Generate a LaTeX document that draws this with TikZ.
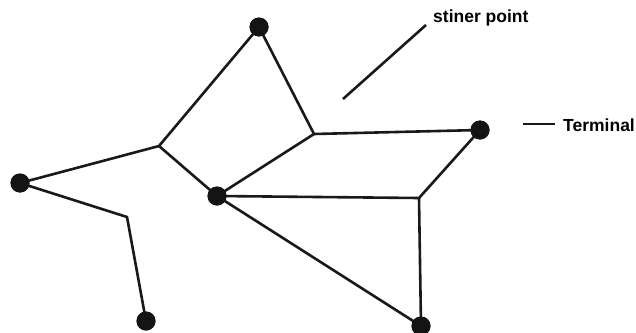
\documentclass[tikz,border=0pt]{standalone}
\usepackage{fontspec}
\setmainfont{Liberation Sans}
\begin{document}
\begin{tikzpicture}[x=1pt,y=-1pt,
  term/.style={circle,fill=black!92,inner sep=0pt,minimum size=19pt},
  stp/.style={coordinate},
  edge/.style={line width=2.6pt,black!90},
  lbl/.style={font=\bfseries\fontsize{17.5}{17.5}\selectfont,inner sep=0pt}]
\useasboundingbox[fill=white] (0,0) rectangle (636,332);
\node[term] (t1) at (259,27) {};
\node[term] (t2) at (480,130) {};
\node[term] (t3) at (20,183) {};
\node[term] (t4) at (217,196) {};
\node[term] (t5) at (146,321) {};
\node[term] (t6) at (421,326) {};
\coordinate (s1) at (159,146);
\coordinate (s2) at (314,134);
\coordinate (s3) at (419,198);
\coordinate (s4) at (127,217);
\draw[edge,line join=miter] (t1.center) -- (s1) -- (t3.center);
\draw[edge] (s1) -- (t4.center);
\draw[edge] (t1.center) -- (s2) -- (t2.center);
\draw[edge] (s2) -- (t4.center);
\draw[edge] (t3.center) -- (s4) -- (t5.center);
\draw[edge] (t4.center) -- (s3) -- (t2.center);
\draw[edge] (s3) -- (t6.center);
\draw[edge] (t4.center) -- (t6.center);
\foreach \n in {t1,t2,t3,t4,t5,t6} \node[term] at (\n) {};
\coordinate (a1) at (343,99);
\coordinate (a2) at (426,25);
\draw[edge] (a1) -- (a2);
\node[lbl,anchor=west] (sp) at (433,18) {stiner point};
\coordinate (b1) at (523,124);
\coordinate (b2) at (555,124);
\draw[edge] (b1) -- (b2);
\node[lbl,anchor=west] (tm) at (563,125) {Terminal};
\end{tikzpicture}
\end{document}
